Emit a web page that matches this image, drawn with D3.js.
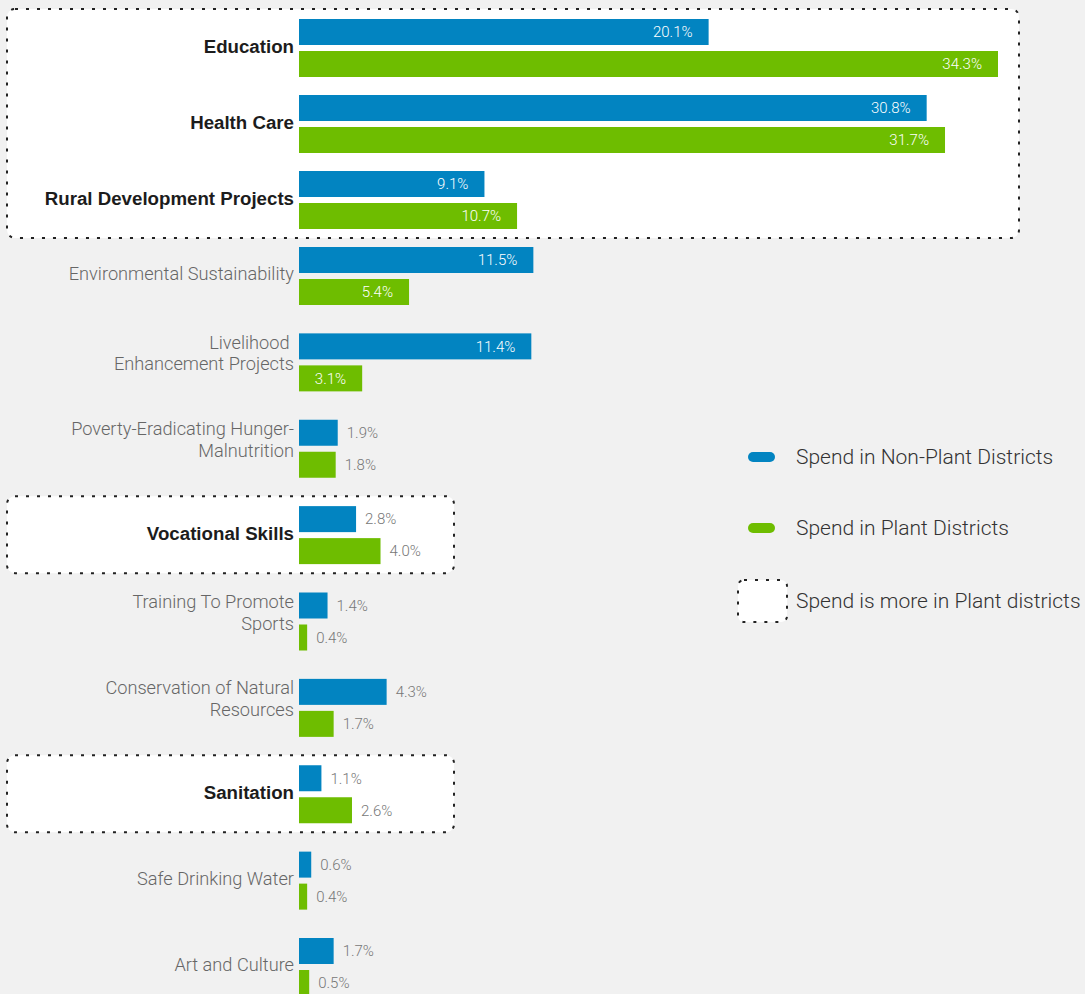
<!DOCTYPE html>
<html>
<head>
<meta charset="utf-8">
<script src="https://cdn.jsdelivr.net/npm/d3@7"></script>
<style>
  html, body { margin: 0; padding: 0; background: #f1f1f1; }
  svg { display: block; }
  .light { font-family: "Roboto", "Liberation Sans", sans-serif; font-weight: 300; }
  .bold { font-family: "Liberation Sans", Arial, sans-serif; font-weight: 700; }
</style>
</head>
<body>
<svg id="chart" width="1085" height="994"></svg>
<script>
// CSR spend share by sector (%), non-plant vs plant districts
const categories = [
  "Education",
  "Health Care",
  "Rural Development Projects",
  "Environmental Sustainability",
  "Livelihood \nEnhancement Projects",
  "Poverty-Eradicating Hunger-\nMalnutrition",
  "Vocational Skills",
  "Training To Promote\nSports",
  "Conservation of Natural\nResources",
  "Sanitation",
  "Safe Drinking Water",
  "Art and Culture"
];
const nonPlantSpend = [20.1, 30.8, 9.1, 11.5, 11.4, 1.9, 2.8, 1.4, 4.3, 1.1, 0.6, 1.7];
const plantSpend    = [34.3, 31.7, 10.7, 5.4, 3.1, 1.8, 4.0, 0.4, 1.7, 2.6, 0.4, 0.5];
const seriesNames = ["Spend in Non-Plant Districts", "Spend in Plant Districts"];
const highlightLabel = "Spend is more in Plant districts";

const colors = { nonPlant: "#0284c1", plant: "#6ebd00" };

const svg = d3.select("#chart");
const n = categories.length;
const barH = 26, barGap = 6;

const rows = categories.map((c, i) => ({
  i, name: c, nonPlant: nonPlantSpend[i], plant: plantSpend[i],
  more: plantSpend[i] > nonPlantSpend[i]
}));

// x: share of spend -> bar length
const x = d3.scaleLinear()
  .domain([0, d3.max([...nonPlantSpend, ...plantSpend])])
  .range([299, 998]);

// y: row index -> top of the row's first bar (first three rows sit tighter)
const y = d3.scaleLinear().domain([0, 3, n - 1]).range([19, 247, 938]);

// highlight boxes around consecutive rows where plant spend is higher
const runs = [];
rows.forEach(r => {
  if (!r.more) return;
  const last = runs[runs.length - 1];
  if (last && last.end === r.i - 1) { last.end = r.i; last.max = Math.max(last.max, r.plant, r.nonPlant); }
  else runs.push({ start: r.i, end: r.i, max: Math.max(r.plant, r.nonPlant) });
});
svg.append("g").selectAll("rect").data(runs).join("rect")
  .attr("x", 7)
  .attr("y", d => y(d.start) - 10)
  .attr("width", d => Math.max(454, x(d.max) + 21) - 7)
  .attr("height", d => y(d.end) + barH * 2 + barGap + 9 - (y(d.start) - 10))
  .attr("rx", 8)
  .attr("fill", "#fff")
  .attr("stroke", "#222")
  .attr("stroke-width", 2)
  .attr("stroke-dasharray", "3,8");

// bars
const series = [
  { key: "nonPlant", off: 0 },
  { key: "plant", off: barH + barGap }
];
const gBars = svg.append("g");
series.forEach(s => {
  gBars.selectAll(null).data(rows).join("rect")
    .attr("x", x(0))
    .attr("y", d => y(d.i) + s.off)
    .attr("width", d => x(d[s.key]) - x(0))
    .attr("height", barH)
    .attr("fill", colors[s.key]);

  // value labels: inside for the large rows, beside the bar otherwise
  gBars.selectAll(null).data(rows).join("text")
    .attr("class", "light")
    .attr("font-size", 15)
    .attr("dy", "0.35em")
    .attr("y", d => y(d.i) + s.off + barH / 2)
    .each(function(d) {
      const inside = Math.max(d.nonPlant, d.plant) > 5;
      d3.select(this)
        .attr("x", inside ? x(d[s.key]) - 16 : x(d[s.key]) + 9)
        .attr("text-anchor", inside ? "end" : "start")
        .attr("fill", inside ? "#fff" : "#777");
    })
    .text(d => d[s.key].toFixed(1) + "%");
});

// category labels
const gLab = svg.append("g");
rows.forEach(r => {
  const lines = r.name.split("\n");
  const lh = 21.5;
  const center = lines.length > 1 ? y(r.i) + 20 : y(r.i) + 27;
  const t = gLab.append("text")
    .attr("class", r.more ? "bold" : "light")
    .attr("font-size", r.more ? 18.7 : 18.2)
    .attr("fill", r.more ? "#1c1c1c" : "#666")
    .attr("text-anchor", "end")
    .style("white-space", "pre");
  lines.forEach((ln, k) => {
    t.append("tspan")
      .attr("x", 294)
      .attr("y", center + (k - (lines.length - 1) / 2) * lh)
      .attr("dy", "0.35em")
      .text(ln);
  });
});

// legend
const legend = svg.append("g");
const legendItems = [
  { label: seriesNames[0], color: colors.nonPlant, cy: 457 },
  { label: seriesNames[1], color: colors.plant, cy: 528 },
  { label: highlightLabel, color: null, cy: 601 }
];
legendItems.forEach(it => {
  if (it.color) {
    legend.append("rect")
      .attr("x", 748).attr("y", it.cy - 5)
      .attr("width", 27).attr("height", 10).attr("rx", 5)
      .attr("fill", it.color);
  } else {
    legend.append("rect")
      .attr("x", 738).attr("y", it.cy - 21)
      .attr("width", 49).attr("height", 42).attr("rx", 6)
      .attr("fill", "#fff").attr("stroke", "#222")
      .attr("stroke-width", 2).attr("stroke-dasharray", "3,8");
  }
  legend.append("text")
    .attr("class", "light")
    .attr("x", 796).attr("y", it.cy).attr("dy", "0.35em")
    .attr("font-size", 21).attr("fill", "#333")
    .text(it.label);
});
</script>
</body>
</html>
